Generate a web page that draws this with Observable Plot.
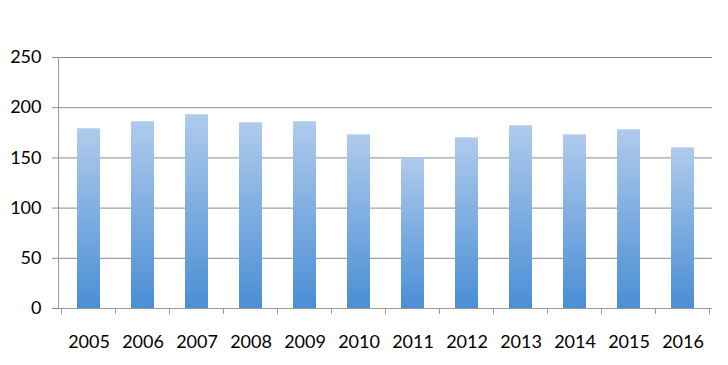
<!DOCTYPE html>
<html>
<head>
<meta charset="utf-8">
<script src="https://cdn.jsdelivr.net/npm/d3@7"></script>
<script src="https://cdn.jsdelivr.net/npm/@observablehq/plot@0.6"></script>
<style>
  html, body { margin: 0; padding: 0; background: #fff; }
  #chart { width: 728px; height: 365px; }
</style>
</head>
<body>
<div id="chart"></div>
<script>
const years = ["2005","2006","2007","2008","2009","2010","2011","2012","2013","2014","2015","2016"];
const values = [179, 186, 193, 185, 186, 173, 150, 170, 182, 173, 178, 160];
const yTicks = [0, 50, 100, 150, 200, 250];

const data = years.map((y, i) => ({year: y, value: values[i]}));

const chart = Plot.plot({
  width: 728,
  height: 365,
  marginLeft: 58,
  marginRight: 16,
  marginTop: 57,
  marginBottom: 57,
  style: {fontFamily: "Lato, sans-serif", fontSize: "18px", color: "#000", background: "#fff"},
  x: {domain: years, paddingInner: 0.58, paddingOuter: 0.29, label: null},
  y: {domain: [0, 250], ticks: yTicks, label: null},
  marks: [
    Plot.ruleY(yTicks.filter(d => d > 0), {stroke: "#8a8a8a", strokeWidth: 1, strokeOpacity: 1}),
    Plot.barY(data, {x: "year", y: "value", fill: "url(#barGrad)"}),
    Plot.axisY({ticks: yTicks, tickSize: 6, tickPadding: 11, stroke: "#8a8a8a", strokeOpacity: 1, fill: "#000", fontSize: 18}),
    Plot.frame({anchor: "left", stroke: "#999", strokeOpacity: 1}),
    Plot.ruleY([0], {stroke: "#999", strokeWidth: 1}),
    Plot.axisX({tickSize: 0, tickPadding: 27, fill: "#000", fontSize: 18})
  ]
});

// gradient definition
const svg = d3.select(chart);
const defs = svg.insert("defs", ":first-child");
const grad = defs.append("linearGradient")
  .attr("id", "barGrad")
  .attr("x1", 0).attr("y1", 0).attr("x2", 0).attr("y2", 1);
grad.append("stop").attr("offset", "0%").attr("stop-color", "#afcbec");
grad.append("stop").attr("offset", "100%").attr("stop-color", "#4a8ed5");

// category boundary ticks via the band scale
const xs = chart.scale("x");
const ys = chart.scale("y");
const step = xs.step;
const y0 = ys.apply(0);
const boundaries = years.map(y => xs.apply(y) - (step - xs.bandwidth) / 2);
boundaries.push(boundaries[boundaries.length - 1] + step);
svg.append("g")
  .attr("stroke", "#999")
  .selectAll("line")
  .data(boundaries)
  .join("line")
  .attr("x1", d => d).attr("x2", d => d)
  .attr("y1", y0).attr("y2", y0 + 6);

document.getElementById("chart").appendChild(chart);
</script>
</body>
</html>
